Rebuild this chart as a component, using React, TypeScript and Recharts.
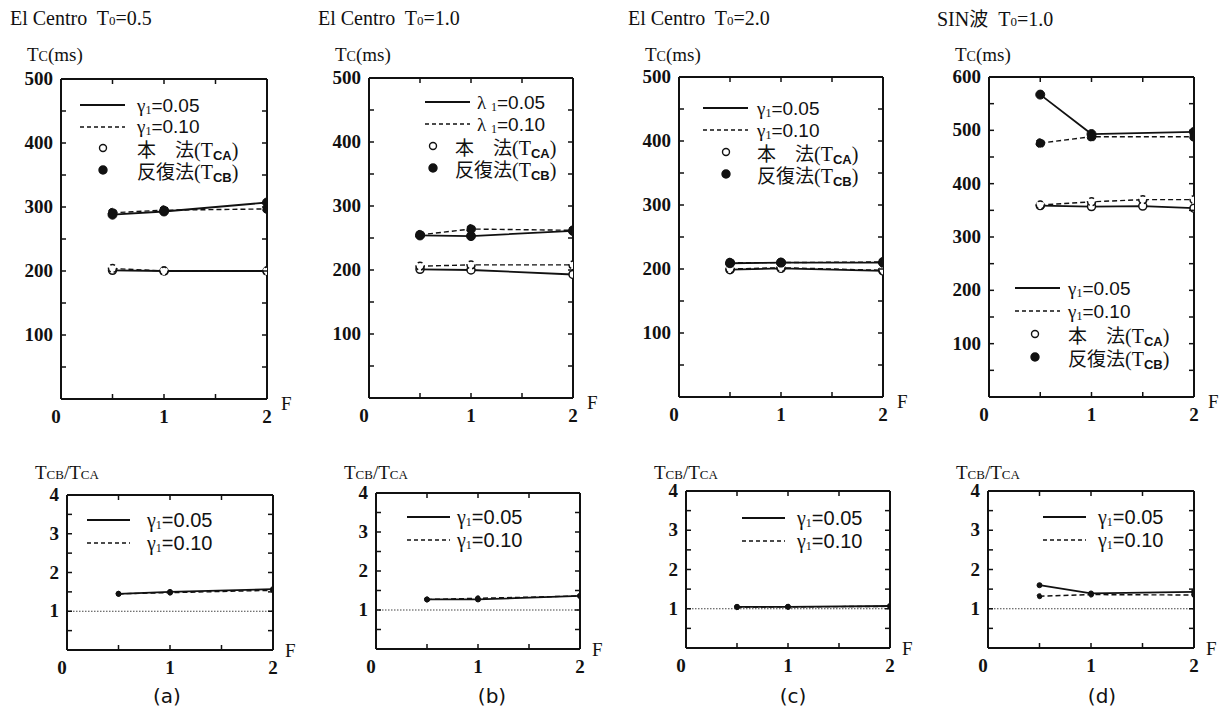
import React from "react";
import { LineChart, Line, XAxis, YAxis, ReferenceLine } from "recharts";

// ---- data ----
const F_POINTS = [0.5, 1, 2];
const F_POINTS_SIN = [0.5, 1, 1.5, 2];

const X_TICKS = [0, 0.5, 1, 1.5, 2];
const TC_TICKS = [0, 50, 100, 150, 200, 250, 300, 350, 400, 450, 500];
const TC_TICKS_SIN = [0, 50, 100, 150, 200, 250, 300, 350, 400, 450, 500, 550, 600];
const RATIO_TICKS = [0, 0.5, 1, 1.5, 2, 2.5, 3, 3.5, 4];

// (a) El Centro T0=0.5
const A_TCA_005 = [201, 200, 200];
const A_TCA_010 = [204, 200, 200];
const A_TCB_005 = [288, 293, 307];
const A_TCB_010 = [291, 295, 297];
const A_RATIO_005 = [1.45, 1.5, 1.57];
const A_RATIO_010 = [1.45, 1.48, 1.54];

// (b) El Centro T0=1.0
const B_TCA_005 = [201, 200, 193];
const B_TCA_010 = [206, 208, 208];
const B_TCB_005 = [254, 253, 261];
const B_TCB_010 = [255, 264, 262];
const B_RATIO_005 = [1.27, 1.27, 1.36];
const B_RATIO_010 = [1.27, 1.3, 1.36];

// (c) El Centro T0=2.0
const C_TCA_005 = [199, 201, 197];
const C_TCA_010 = [200, 202, 198];
const C_TCB_005 = [209, 210, 210];
const C_TCB_010 = [210, 210, 211];
const C_RATIO_005 = [1.05, 1.05, 1.07];
const C_RATIO_010 = [1.04, 1.05, 1.06];

// (d) SIN wave T0=1.0
const D_TCA_005 = [359, 357, 358, 354];
const D_TCA_010 = [360, 366, 370, 370];
const D_TCB_005 = [567, 493, null, 497];
const D_TCB_010 = [476, 488, null, 488];
const D_RATIO_005 = [1.6, 1.39, 1.43];
const D_RATIO_010 = [1.32, 1.36, 1.35];

type Col = (number | null)[];
const rows = (xs: number[], cols: Record<string, Col>) =>
  xs.map((x, i) => {
    const r: Record<string, number | null> = { x };
    for (const k of Object.keys(cols)) r[k] = cols[k][i];
    return r;
  });

const SERIF = "'Liberation Serif', 'DejaVu Serif', serif";
const SANS = "'Liberation Sans', Arial, sans-serif";
const CJK = "'Noto Sans CJK JP', sans-serif";
const INK = "#111";

const AXIS = { stroke: INK, strokeWidth: 2 };
const OPEN_DOT = { r: 4, fill: "#fff", stroke: INK, strokeWidth: 1.5 };
const FILL_DOT = { r: 4.5, fill: INK, stroke: INK, strokeWidth: 1 };
const SMALL_DOT = { r: 2.5, fill: INK, stroke: INK, strokeWidth: 1 };

const TC_SERIES = [
  { key: "tca005", dashed: false, dot: OPEN_DOT },
  { key: "tca010", dashed: true, dot: OPEN_DOT },
  { key: "tcb005", dashed: false, dot: FILL_DOT },
  { key: "tcb010", dashed: true, dot: FILL_DOT },
];
const RATIO_SERIES = [
  { key: "r005", dashed: false, dot: SMALL_DOT },
  { key: "r010", dashed: true, dot: SMALL_DOT },
];

interface Box { l: number; t: number; w: number; h: number }

function Panel({ box, data, yMax, yTicks, labelStep, series, refOne }: {
  box: Box; data: any[]; yMax: number; yTicks: number[]; labelStep: number;
  series: typeof TC_SERIES; refOne?: boolean;
}) {
  // axes take 1px each, so the plot box sits at margin + 1
  const M = { top: 13, right: 13, bottom: 33, left: 49 };
  const tickFont = { fontFamily: SERIF, fontSize: 19, fontWeight: 700, fill: INK } as const;

  const bottomTick = (p: any) => {
    const v = p.payload.value;
    return (
      <g>
        {v > 0 && v < 2 && <line x1={p.x} y1={p.y} x2={p.x} y2={p.y - 5} stroke={INK} strokeWidth={1.5} />}
        {Number.isInteger(v) && (
          <text x={p.x + (v === 0 ? -5 : 0)} y={p.y + 24} textAnchor="middle" {...tickFont}>{v}</text>
        )}
      </g>
    );
  };
  const topTick = (p: any) => {
    const v = p.payload.value;
    return v > 0 && v < 2 ? <line x1={p.x} y1={p.y} x2={p.x} y2={p.y + 5} stroke={INK} strokeWidth={1.5} /> : <g />;
  };
  const leftTick = (p: any) => {
    const v = p.payload.value;
    const labelled = v > 0 && Math.abs(v / labelStep - Math.round(v / labelStep)) < 1e-9;
    return (
      <g>
        {v > 0 && v < yMax && <line x1={p.x} y1={p.y} x2={p.x + 5} y2={p.y} stroke={INK} strokeWidth={1.5} />}
        {labelled && <text x={p.x - 8} y={p.y + 6} textAnchor="end" {...tickFont}>{v}</text>}
      </g>
    );
  };
  const rightTick = (p: any) => {
    const v = p.payload.value;
    return v > 0 && v < yMax ? <line x1={p.x} y1={p.y} x2={p.x - 5} y2={p.y} stroke={INK} strokeWidth={1.5} /> : <g />;
  };

  return (
    <div style={{ position: "absolute", left: box.l - M.left - 1, top: box.t - M.top - 1 }}>
      <LineChart width={box.w + M.left + M.right + 2} height={box.h + M.top + M.bottom + 2} data={data} margin={M}>
        <XAxis xAxisId="b" type="number" dataKey="x" domain={[0, 2]} ticks={X_TICKS} interval={0}
          height={1} tickSize={0} tickMargin={0} tickLine={false} axisLine={AXIS} tick={bottomTick} allowDataOverflow />
        <XAxis xAxisId="t" orientation="top" type="number" dataKey="x" domain={[0, 2]} ticks={X_TICKS} interval={0}
          height={1} tickSize={0} tickMargin={0} tickLine={false} axisLine={AXIS} tick={topTick} allowDataOverflow />
        <YAxis yAxisId="l" type="number" domain={[0, yMax]} ticks={yTicks} interval={0}
          width={1} tickSize={0} tickMargin={0} tickLine={false} axisLine={AXIS} tick={leftTick} allowDataOverflow />
        <YAxis yAxisId="r" orientation="right" type="number" domain={[0, yMax]} ticks={yTicks} interval={0}
          width={1} tickSize={0} tickMargin={0} tickLine={false} axisLine={AXIS} tick={rightTick} allowDataOverflow />
        {refOne && (
          <ReferenceLine xAxisId="b" yAxisId="l" y={1} stroke="#444" strokeWidth={1.2} strokeDasharray="1.5 1.5" />
        )}
        {series.map((s) => (
          <Line key={s.key} xAxisId="b" yAxisId="l" type="linear" dataKey={s.key}
            stroke={INK} strokeWidth={s.dashed ? 1.4 : 1.8} strokeDasharray={s.dashed ? "5 3" : undefined}
            dot={s.dot} activeDot={false} connectNulls isAnimationActive={false} />
        ))}
      </LineChart>
    </div>
  );
}

function Txt({ x, y, size = 17, font = SERIF, anchor = "left", children, weight = 400 }: any) {
  return (
    <div style={{
      position: "absolute", left: x, top: y - size / 2, height: size, lineHeight: `${size}px`, whiteSpace: "pre",
      fontFamily: font, fontSize: size, color: INK, fontWeight: weight,
      transform: anchor === "center" ? "translateX(-50%)" : undefined,
    }}>{children}</div>
  );
}

const Sub = ({ children, size = 13, drop = 3, font = SANS, weight = 700 }: any) => (
  <span style={{ fontSize: size, lineHeight: 1, position: "relative", top: drop, fontFamily: font, fontWeight: weight }}>{children}</span>
);

const Param = ({ sym, val }: { sym: string; val: string }) => (
  <span>
    <span style={{ fontFamily: SERIF }}>{sym}</span>
    {sym === "λ" ? " " : ""}
    <Sub size={12} drop={2} font={SERIF} weight={400}>1</Sub>
    <span style={{ fontFamily: SANS }}>={val}</span>
  </span>
);

function LineSample({ x, y, w, dashed }: { x: number; y: number; w: number; dashed?: boolean }) {
  return (
    <svg style={{ position: "absolute", left: x, top: y - 3 }} width={w} height={6}>
      <line x1={0} y1={3} x2={w} y2={3} stroke={INK} strokeWidth={dashed ? 1.3 : 1.8} strokeDasharray={dashed ? "4 3" : undefined} />
    </svg>
  );
}

function Marker({ x, y, open }: { x: number; y: number; open?: boolean }) {
  return (
    <svg style={{ position: "absolute", left: x - 6, top: y - 6 }} width={12} height={12}>
      <circle cx={6} cy={6} r={open ? 3.5 : 4} fill={open ? "#fff" : INK} stroke={INK} strokeWidth={1.4} />
    </svg>
  );
}

function TopLegend({ lineX, textX, dotX, textX2, y0, gap, sym }: any) {
  return (
    <>
      <LineSample x={lineX} y={y0} w={45} />
      <Txt x={textX} y={y0} size={19}><Param sym={sym} val="0.05" /></Txt>
      <LineSample x={lineX} y={y0 + gap} w={45} dashed />
      <Txt x={textX} y={y0 + gap} size={19}><Param sym={sym} val="0.10" /></Txt>
      <Marker x={dotX} y={y0 + 2 * gap} open />
      <Txt x={textX2} y={y0 + 2 * gap} font={CJK} size={19}>本　法<span style={{ fontFamily: SERIF, fontSize: 20 }}>(T<Sub>CA</Sub>)</span></Txt>
      <Marker x={dotX} y={y0 + 3 * gap} />
      <Txt x={textX2} y={y0 + 3 * gap} font={CJK} size={19}>反復法<span style={{ fontFamily: SERIF, fontSize: 20 }}>(T<Sub>CB</Sub>)</span></Txt>
    </>
  );
}

function RatioLegend({ lineX, textX, y0 }: any) {
  return (
    <>
      <LineSample x={lineX} y={y0} w={43} />
      <Txt x={textX} y={y0} size={20}><Param sym="γ" val="0.05" /></Txt>
      <LineSample x={lineX} y={y0 + 23} w={43} dashed />
      <Txt x={textX} y={y0 + 23} size={20}><Param sym="γ" val="0.10" /></Txt>
    </>
  );
}

const TcLabel = ({ x, y }: any) => (
  <Txt x={x} y={y} size={19}>T<span style={{ fontSize: 14 }}>C</span>(ms)</Txt>
);
const RatioLabel = ({ x, y }: any) => (
  <Txt x={x} y={y} size={19}>T<span style={{ fontSize: 13 }}>CB</span>/T<span style={{ fontSize: 13 }}>CA</span></Txt>
);
const Title = ({ x, name, t0 }: any) => (
  <Txt x={x} y={18} size={20}>{name}  T<span style={{ fontSize: 13 }}>0</span>={t0}</Txt>
);

const PANELS = [
  {
    top: { l: 61, t: 79, w: 206, h: 320 }, bottom: { l: 67, t: 495, w: 206, h: 155 },
    tc: rows(F_POINTS, { tca005: A_TCA_005, tca010: A_TCA_010, tcb005: A_TCB_005, tcb010: A_TCB_010 }),
    ratio: rows(F_POINTS, { r005: A_RATIO_005, r010: A_RATIO_010 }),
    yMax: 500, yTicks: TC_TICKS, titleX: 10, name: "El Centro", t0: "0.5", sym: "γ",
    legend: { lineX: 80, textX: 137, dotX: 103, textX2: 137, y0: 105, gap: 21.7 },
    rLegend: { lineX: 87, textX: 147, y0: 520 }, caption: "(a)", capX: 167,
  },
  {
    top: { l: 369, t: 78, w: 204, h: 320 }, bottom: { l: 376, t: 493, w: 204, h: 156 },
    tc: rows(F_POINTS, { tca005: B_TCA_005, tca010: B_TCA_010, tcb005: B_TCB_005, tcb010: B_TCB_010 }),
    ratio: rows(F_POINTS, { r005: B_RATIO_005, r010: B_RATIO_010 }),
    yMax: 500, yTicks: TC_TICKS, titleX: 318, name: "El Centro", t0: "1.0", sym: "λ",
    legend: { lineX: 425, textX: 477, dotX: 433, textX2: 455, y0: 102, gap: 22 },
    rLegend: { lineX: 407, textX: 457, y0: 517 }, caption: "(b)", capX: 492,
  },
  {
    top: { l: 679, t: 77, w: 204, h: 320 }, bottom: { l: 686, t: 491, w: 204, h: 157 },
    tc: rows(F_POINTS, { tca005: C_TCA_005, tca010: C_TCA_010, tcb005: C_TCB_005, tcb010: C_TCB_010 }),
    ratio: rows(F_POINTS, { r005: C_RATIO_005, r010: C_RATIO_010 }),
    yMax: 500, yTicks: TC_TICKS, titleX: 628, name: "El Centro", t0: "2.0", sym: "γ",
    legend: { lineX: 703, textX: 757, dotX: 726, textX2: 757, y0: 108, gap: 22 },
    rLegend: { lineX: 742, textX: 797, y0: 518 }, caption: "(c)", capX: 793,
  },
  {
    top: { l: 989, t: 77, w: 205, h: 320 }, bottom: { l: 988, t: 491, w: 206, h: 157 },
    tc: rows(F_POINTS_SIN, { tca005: D_TCA_005, tca010: D_TCA_010, tcb005: D_TCB_005, tcb010: D_TCB_010 }),
    ratio: rows(F_POINTS, { r005: D_RATIO_005, r010: D_RATIO_010 }),
    yMax: 600, yTicks: TC_TICKS_SIN, titleX: 937, name: "SIN波", t0: "1.0", sym: "γ",
    legend: { lineX: 1015, textX: 1068, dotX: 1035, textX2: 1068, y0: 288, gap: 23 },
    rLegend: { lineX: 1043, textX: 1098, y0: 517 }, caption: "(d)", capX: 1102,
  },
];

export default function App() {
  return (
    <div style={{ position: "absolute", left: 0, top: 0, width: 1226, height: 714, background: "#fff", overflow: "hidden" }}>
      {PANELS.map((p, i) => (
        <React.Fragment key={i}>
          <Title x={p.titleX} name={p.name === "SIN波" ? <>SIN<span style={{ fontFamily: CJK, fontSize: 19, lineHeight: 1 }}>波</span></> : p.name} t0={p.t0} />
          <TcLabel x={p.top.l - 34} y={54} />
          <Panel box={p.top} data={p.tc} yMax={p.yMax} yTicks={p.yTicks} labelStep={100} series={TC_SERIES} />
          <Txt x={p.top.l + p.top.w + 14} y={p.top.t + p.top.h + 4} size={19}>F</Txt>
          <TopLegend {...p.legend} sym={p.sym} />

          <RatioLabel x={p.bottom.l - 32} y={472} />
          <Panel box={p.bottom} data={p.ratio} yMax={4} yTicks={RATIO_TICKS} labelStep={1} series={RATIO_SERIES} refOne />
          <Txt x={p.bottom.l + p.bottom.w + 12} y={p.bottom.t + p.bottom.h} size={19}>F</Txt>
          <RatioLegend {...p.rLegend} />
          <Txt x={p.capX} y={696} size={20} font="'DejaVu Sans', sans-serif" anchor="center">{p.caption}</Txt>
        </React.Fragment>
      ))}
    </div>
  );
}
